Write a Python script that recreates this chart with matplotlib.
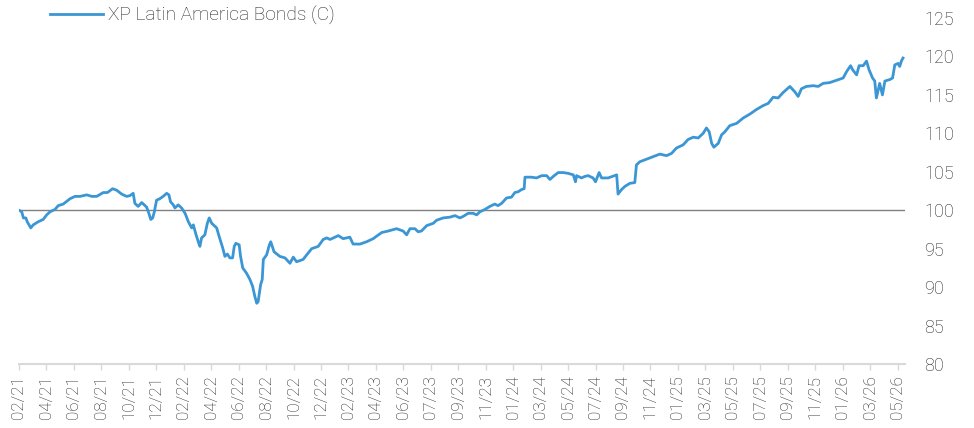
import numpy as np
import matplotlib
matplotlib.use('Agg')
import matplotlib.pyplot as plt

# tick labels, one every period on the x axis
tick_labels = ['02/21', '04/21', '06/21', '08/21', '10/21', '12/21',
               '02/22', '04/22', '06/22', '08/22', '10/22', '12/22',
               '02/23', '04/23', '06/23', '07/23', '09/23', '11/23',
               '01/24', '03/24', '05/24', '07/24', '09/24', '11/24',
               '01/25', '03/25', '05/25', '07/25', '09/25', '11/25',
               '01/26', '03/26', '05/26']

# position of each reading, in tick periods from 02/21
period = [0.00, 0.10, 0.16, 0.25, 0.30, 0.43, 0.52, 0.70, 0.88, 1.01,
          1.13, 1.31, 1.43, 1.61, 1.86, 2.04, 2.22, 2.47, 2.65, 2.83,
          3.07, 3.22, 3.41, 3.56, 3.74, 3.92, 4.04, 4.16, 4.22, 4.34,
          4.47, 4.65, 4.73, 4.80, 4.87, 4.93, 5.01, 5.13, 5.25, 5.38,
          5.46, 5.52, 5.62, 5.68, 5.80, 5.92, 6.05, 6.17, 6.29, 6.35,
          6.45, 6.53, 6.59, 6.65, 6.77, 6.86, 6.93, 7.02, 7.20, 7.29,
          7.42, 7.50, 7.59, 7.68, 7.78, 7.84, 7.90, 8.02, 8.07, 8.15,
          8.29, 8.41, 8.51, 8.59, 8.66, 8.71, 8.80, 8.86, 8.90, 9.02,
          9.12, 9.17, 9.29, 9.50, 9.69, 9.87, 9.99, 10.11, 10.35, 10.48,
          10.66, 10.90, 11.08, 11.21, 11.33, 11.63, 11.81, 12.05, 12.17, 12.42,
          12.66, 12.90, 13.21, 13.45, 13.75, 13.99, 14.12, 14.24, 14.42, 14.54,
          14.66, 14.85, 15.09, 15.21, 15.45, 15.70, 15.88, 16.06, 16.18, 16.36,
          16.54, 16.67, 16.79, 16.97, 17.15, 17.33, 17.45, 17.58, 17.76, 17.94,
          18.06, 18.18, 18.31, 18.40, 18.43, 18.67, 18.85, 19.04, 19.22, 19.34,
          19.46, 19.64, 19.82, 20.00, 20.19, 20.27, 20.31, 20.49, 20.61, 20.73,
          20.91, 21.00, 21.13, 21.22, 21.46, 21.77, 21.82, 21.95, 22.07, 22.25,
          22.43, 22.49, 22.61, 22.98, 23.34, 23.59, 23.77, 23.95, 24.19, 24.37,
          24.56, 24.74, 24.92, 25.04, 25.14, 25.23, 25.31, 25.47, 25.59, 25.71,
          25.89, 26.14, 26.38, 26.62, 26.86, 27.10, 27.29, 27.47, 27.65, 27.83,
          28.08, 28.26, 28.38, 28.50, 28.68, 28.93, 29.11, 29.29, 29.53, 29.78,
          30.02, 30.14, 30.29, 30.36, 30.51, 30.60, 30.75, 30.87, 30.96, 31.09,
          31.17, 31.23, 31.35, 31.45, 31.54, 31.72, 31.82, 31.90, 32.02, 32.08,
          32.14, 32.20]

bonds = [100.0, 99.8, 99.0, 99.0, 98.5, 97.7, 98.1, 98.5, 98.8, 99.4,
         99.8, 100.1, 100.6, 100.8, 101.5, 101.8, 101.8, 102.0, 101.8, 101.8,
         102.3, 102.3, 102.8, 102.6, 102.1, 101.8, 101.9, 102.2, 100.9, 100.5,
         101.0, 100.4, 99.6, 98.8, 99.0, 99.8, 101.3, 101.5, 101.8, 102.2,
         102.0, 101.1, 100.7, 100.3, 100.7, 100.3, 99.6, 98.5, 97.7, 98.1,
         96.8, 95.9, 95.3, 96.4, 96.8, 98.3, 99.0, 98.3, 97.7, 96.6,
         95.1, 94.0, 94.3, 93.8, 93.8, 95.3, 95.7, 95.5, 94.0, 92.5,
         91.8, 91.0, 90.1, 88.8, 87.9, 88.1, 90.3, 91.0, 93.6, 94.2,
         95.5, 95.9, 94.6, 94.0, 93.8, 93.1, 93.9, 93.3, 93.6, 94.2,
         95.0, 95.3, 96.2, 96.4, 96.2, 96.7, 96.3, 96.5, 95.6, 95.6,
         95.9, 96.3, 97.1, 97.3, 97.6, 97.3, 96.8, 97.6, 97.6, 97.2,
         97.3, 98.0, 98.3, 98.7, 99.0, 99.1, 99.3, 99.0, 99.2, 99.6,
         99.6, 99.4, 99.8, 100.1, 100.5, 100.8, 100.6, 100.9, 101.6, 101.7,
         102.3, 102.4, 102.7, 102.8, 104.3, 104.3, 104.2, 104.5, 104.5, 104.0,
         104.4, 104.9, 104.9, 104.8, 104.6, 103.7, 104.5, 104.2, 104.4, 104.5,
         104.2, 103.7, 104.9, 104.2, 104.2, 104.6, 102.1, 102.7, 103.1, 103.5,
         103.6, 105.9, 106.3, 106.8, 107.3, 107.1, 107.4, 108.1, 108.5, 109.2,
         109.5, 109.4, 110.0, 110.7, 110.2, 108.7, 108.2, 108.7, 109.8, 110.2,
         111.0, 111.3, 112.0, 112.5, 113.1, 113.6, 113.9, 114.7, 114.6, 115.3,
         116.1, 115.4, 114.8, 115.8, 116.1, 116.2, 116.1, 116.5, 116.6, 116.9,
         117.2, 118.0, 118.8, 118.3, 117.6, 118.8, 118.8, 119.4, 118.3, 117.2,
         116.8, 114.6, 116.5, 115.0, 116.8, 117.0, 117.2, 118.9, 119.1, 118.7,
         119.4, 119.8]

y_ticks = [80, 85, 90, 95, 100, 105, 110, 115, 120, 125]

plt.rcParams['font.family'] = ['Roboto', 'DejaVu Sans']
txt = '#262626'

fig = plt.figure(figsize=(9.74, 4.28), dpi=100)
ax = fig.add_axes([0.0195, 0.1495, 0.9096, 0.8084])

ax.axhline(100, color='#808080', lw=1.0, zorder=1)
ax.plot(period, bonds, color='#3a96d4', lw=2.0, label='XP Latin America Bonds (C)', zorder=2)

ax.set_xlim(0, 32.27)
ax.set_ylim(80, 125)
ax.set_xticks(np.arange(len(tick_labels)))
ax.set_xticklabels(tick_labels, rotation=90, fontsize=12.3, color=txt, fontweight='light')
ax.set_yticks(y_ticks)
ax.set_yticklabels([str(v) for v in y_ticks], fontsize=13, color=txt, fontweight='light')
ax.yaxis.tick_right()
ax.tick_params(axis='y', length=0, pad=14)
ax.tick_params(axis='x', length=4, width=1, color='#d9d9d9', pad=4)

for s in ['top', 'left', 'right']:
    ax.spines[s].set_visible(False)
ax.spines['bottom'].set_color('#d9d9d9')
ax.spines['bottom'].set_linewidth(1.5)

leg = ax.legend(loc='center left', bbox_to_anchor=(0.035, 1.006), frameon=False,
                fontsize=13.8, handlelength=2.75, handletextpad=0.28,
                borderpad=0, borderaxespad=0)
for t in leg.get_texts():
    t.set_color(txt)
    t.set_fontweight('light')

plt.savefig('out.png', dpi=100)
